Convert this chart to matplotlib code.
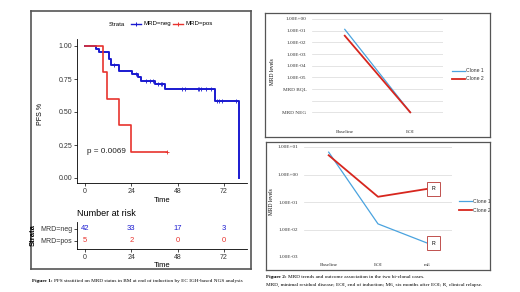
import numpy as np
import matplotlib
matplotlib.use("Agg")
import matplotlib.pyplot as plt
from matplotlib.ticker import NullLocator

# ── Kaplan-Meier data (PFS by MRD status) ────────────
neg_time = [0, 5.9, 7.1, 12.4, 13.5, 17.6, 24.5, 27.3, 29.2, 36.3, 41.3, 67.3, 80.0]
neg_surv = [1.0, 0.976, 0.952, 0.905, 0.857, 0.810, 0.786, 0.762, 0.738, 0.714, 0.677, 0.583, 0.0]
neg_cens = [15.2, 26.5, 31.6, 33.7, 35.4, 37.6, 39.2, 40.0, 50.4, 51.8, 58.4, 59.2, 60.0,
            62.5, 65.2, 68.6, 69.6, 70.9, 78.3]
pos_time = [0, 9.5, 11.6, 17.6, 23.8, 42.6]
pos_surv = [1.0, 0.8, 0.6, 0.4, 0.2, 0.2]
pos_cens = [42.6]
p_value = "p = 0.0069"

risk_times = [0, 24, 48, 72]
risk_neg = [42, 33, 17, 3]
risk_pos = [5, 2, 0, 0]
strata = ["MRD=neg", "MRD=pos"]

# ── MRD trends in the two bi-clonal cases ────────────
top_cats = ["Baseline", "EOI"]
top_clone1 = [1.3e-1, 1e-8]
top_clone2 = [3.7e-2, 1e-8]
top_ticks = [1e0, 1e-1, 1e-2, 1e-3, 1e-4, 1e-5, 1e-6, 1e-7, 1e-8, 1e-9]
top_labels = ["1.00E+00", "1.00E-01", "1.00E-02", "1.00E-03", "1.00E-04", "1.00E-05",
              "MRD BQL", "", "MRD NEG", ""]

bot_cats = ["Baseline", "EOI", "m6"]
bot_clone1 = [6.5, 1.6e-2, 3.2e-3]
bot_clone2 = [5.0, 0.155, 0.30]
bot_ticks = [1e1, 1e0, 1e-1, 1e-2, 1e-3]
bot_labels = ["1.00E+01", "1.00E+00", "1.00E-01", "1.00E-02", "1.00E-03"]
relapse_idx = 2

BLUE, RED = "#1a1ad0", "#e8332e"
C1, C2 = "#4aa3df", "#d7261e"
SANS = "Liberation Sans"
SERIF = "Liberation Serif"

W, H = 520, 292
fig = plt.figure(figsize=(W / 100, H / 100), dpi=100)


def px_axes(x0, y0, x1, y1):
    return fig.add_axes([x0 / W, 1 - y1 / H, (x1 - x0) / W, (y1 - y0) / H])


def frame(x0, y0, x1, y1, color, lw):
    ax = px_axes(x0, y0, x1, y1)
    ax.set_xticks([]); ax.set_yticks([])
    ax.set_xlim(x0, x1); ax.set_ylim(y1, y0)
    ax.patch.set_alpha(0)
    for s in ax.spines.values():
        s.set_color(color); s.set_linewidth(lw)
    return ax


def surv_at(times, surv, t):
    return surv[np.searchsorted(times, t, side="right") - 1]


# ── Left panel: KM curve ─────────────────────────────
lf = frame(31, 11, 251, 269, "#555555", 1.2)
lf.text(117, 24, "Strata", fontsize=4.3, family=SANS, ha="center", va="center")
for x0, col, lab in [(131, BLUE, strata[0]), (173, RED, strata[1])]:
    lf.plot([x0, x0 + 10], [24, 24], color=col, lw=1.0)
    lf.plot([x0 + 5], [24], marker="+", color=col, ms=3, mew=0.7)
    lf.text(x0 + 12, 24, lab, fontsize=4.4, family=SANS, ha="left", va="center")

sc = 1.9306
km = px_axes(77, 39, 247, 183)
km.set_xlim((77 - 85) / sc, (247 - 85) / sc)
km.set_ylim((178 - 183) / 132, (178 - 39) / 132)
km.step(neg_time, neg_surv, where="post", color=BLUE, lw=1.4)
km.step(pos_time, pos_surv, where="post", color=RED, lw=1.2)
km.plot(neg_cens, [surv_at(neg_time, neg_surv, t) for t in neg_cens], "+",
        color=BLUE, ms=3, mew=0.6)
km.plot(pos_cens, [surv_at(pos_time, pos_surv, t) for t in pos_cens], "+",
        color=RED, ms=3, mew=0.6)
km.text(1, 0.197, p_value, fontsize=5.9, family=SANS, ha="left", va="center", color="#222222")
km.set_xticks(risk_times)
km.set_yticks([0, 0.25, 0.5, 0.75, 1.0])
km.set_yticklabels(["0.00", "0.25", "0.50", "0.75", "1.00"])
km.set_xlabel("Time", fontsize=5.5, family=SANS)
km.set_ylabel("PFS %", fontsize=5.0, family=SANS)
km.xaxis.set_label_coords(0.5, -0.095)
km.yaxis.set_label_coords(-0.195, 0.48)

risk = px_axes(77, 222, 247, 249)
risk.set_xlim(km.get_xlim())
risk.set_ylim(0.333, 2.58)
for t, a, b in zip(risk_times, risk_neg, risk_pos):
    risk.text(t, 2, str(a), color=BLUE, fontsize=5.5, family=SANS, ha="center", va="center")
    risk.text(t, 1, str(b), color=RED, fontsize=5.5, family=SANS, ha="center", va="center")
risk.set_xticks(risk_times)
risk.set_yticks([2, 1])
risk.set_yticklabels(strata)
for lab, col in zip(risk.get_yticklabels(), [BLUE, RED]):
    lab.set_color(col)
risk.text(0, 1.33, "Number at risk", transform=risk.transAxes, fontsize=6.5,
          family=SANS, ha="left", va="center")
risk.set_xlabel("Time", fontsize=5.5, family=SANS)
risk.xaxis.set_label_coords(0.5, -0.47)
risk.set_ylabel("Strata", fontsize=5.5, family=SANS, fontweight="bold")
risk.yaxis.set_label_coords(-0.235, 0.5)

for ax in (km, risk):
    ax.spines[["top", "right"]].set_visible(False)
    for s in ("left", "bottom"):
        ax.spines[s].set_linewidth(0.6)
    ax.tick_params(length=2, width=0.5, pad=1.5, labelsize=5.0, labelcolor="#333333")
    for lab in ax.get_xticklabels() + ax.get_yticklabels():
        lab.set_family(SANS)
    ax.patch.set_alpha(0)

fig.text(32 / W, 1 - 281 / H, "Figure 1:", fontsize=3.8, family=SERIF,
         fontweight="bold", va="center")
fig.text(54 / W, 1 - 281 / H,
         "PFS stratified on MRD status in BM at end of induction by EC IGH-based NGS analysis",
         fontsize=3.8, family=SERIF, va="center")


# ── Right panels: MRD trends ─────────────────────────
def trend_panel(box, area, cats, c1, c2, ticks, labels, ylim, leg_x, leg_y, lbl_x):
    fr = frame(*box, "#555555", 0.9)
    ax = px_axes(*area)
    ax.set_yscale("log")
    ax.set_ylim(*ylim)
    ax.set_xlim(-0.5, len(cats) - 0.5)
    x = np.arange(len(cats))
    ax.plot(x, c1, color=C1, lw=0.9, zorder=3)
    ax.plot(x, c2, color=C2, lw=1.3, zorder=3)
    ax.set_yticks(ticks)
    ax.set_yticklabels(labels)
    ax.yaxis.set_minor_locator(NullLocator())
    ax.set_xticks(x)
    ax.set_xticklabels(cats)
    ax.grid(axis="y", color="#d9d9d9", lw=0.5)
    ax.set_axisbelow(True)
    for s in ax.spines.values():
        s.set_visible(False)
    ax.tick_params(length=0, pad=4, labelsize=3.8, labelcolor="#333333")
    for lab in ax.get_xticklabels() + ax.get_yticklabels():
        lab.set_family(SERIF)
    ax.set_ylabel("MRD levels", fontsize=4.0, family=SERIF)
    ax.yaxis.set_label_coords(lbl_x, 0.5)
    ax.patch.set_alpha(0)
    for y, col, lw, lab in [(leg_y[0], C1, 0.9, "Clone 1"), (leg_y[1], C2, 1.3, "Clone 2")]:
        fr.plot([leg_x, leg_x + 13], [y, y], color=col, lw=lw, clip_on=True)
        fr.text(leg_x + 14, y, lab, fontsize=3.7, family=SANS, ha="left", va="center",
                color="#333333", clip_on=True)
    return ax


trend_panel((265, 13, 490, 137), (312, 19, 443, 124), top_cats, top_clone1, top_clone2,
            top_ticks, top_labels, (1e-9, 1e0), 452, (71, 79), -0.28)
bot = trend_panel((266, 142, 490, 270), (304, 147, 452, 257), bot_cats, bot_clone1,
                  bot_clone2, bot_ticks, bot_labels, (1e-3, 1e1), 459, (201, 210), -0.2)
for v in (bot_clone1[relapse_idx], bot_clone2[relapse_idx]):
    bot.annotate("R", xy=(relapse_idx, v), xytext=(4.5, 0), textcoords="offset points",
                 fontsize=3.8, family=SANS, ha="center", va="center", zorder=5,
                 bbox=dict(boxstyle="square,pad=0.8", fc="white", ec="#c0504d", lw=0.7))

fig.text(266 / W, 1 - 277 / H, "Figure 2:", fontsize=3.8, family=SERIF,
         fontweight="bold", va="center")
fig.text(288.5 / W, 1 - 277 / H,
         "MRD trends and outcome association in the two bi-clonal cases.",
         fontsize=3.8, family=SERIF, va="center")
fig.text(266 / W, 1 - 284.5 / H,
         "MRD, minimal residual disease; EOI, end of induction; M6, six months after EOI; "
         "R, clinical relapse.",
         fontsize=3.8, family=SERIF, va="center")

fig.savefig("out.png", dpi=100)
